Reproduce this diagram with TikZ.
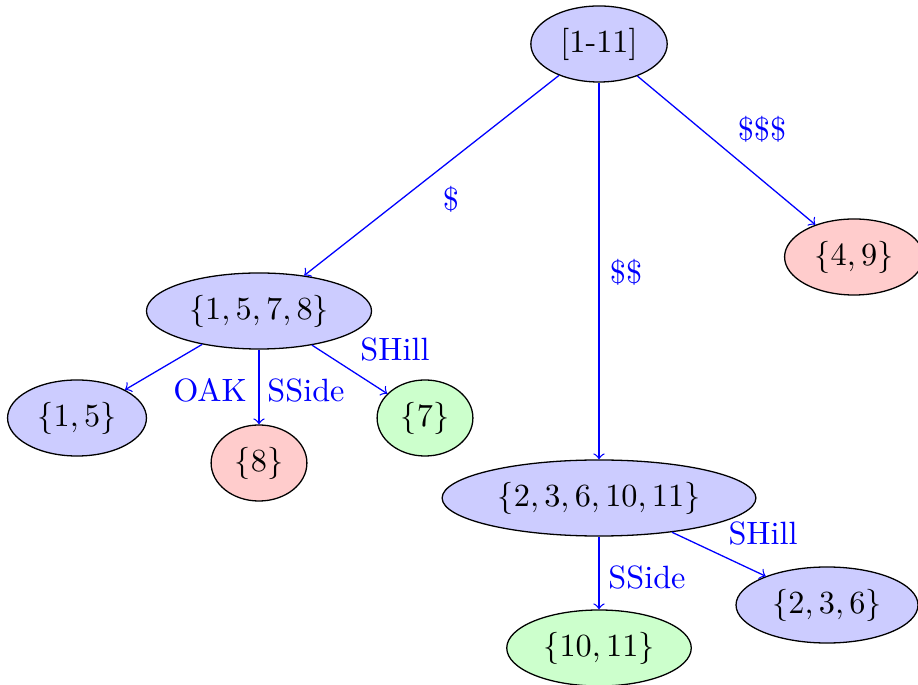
\documentclass[tikz,border=0pt]{standalone}
\usetikzlibrary{shapes.geometric}
\begin{document}
\begin{tikzpicture}[x=0.31pt,y=-0.31pt,
  setnode/.style={ellipse,draw,inner xsep=3pt,inner ysep=0.3333em},
  blueset/.style={setnode,fill=blue!20},
  redset/.style={setnode,fill=red!20},
  greenset/.style={setnode,fill=green!20},
  link/.style={->,blue},
  lbl/.style={blue,inner sep=0pt}]
\useasboundingbox (0,0) rectangle (918,685);

% tree nodes
\node[blueset]  (root)  at (599,44)  {[1-11]};
\node[blueset]  (a)     at (259,311) {$\{1,5,7,8\}$};
\node[blueset]  (b)     at (599,498) {$\{2,3,6,10,11\}$};
\node[redset]   (c)     at (854,257) {$\{4,9\}$};
\node[blueset]  (a1)    at (77,418)  {$\{1,5\}$};
\node[redset]   (a2)    at (259,463) {$\{8\}$};
\node[greenset] (a3)    at (425,418) {$\{7\}$};
\node[greenset] (b1)    at (599,648) {$\{10,11\}$};
\node[blueset]  (b2)    at (827,605) {$\{2,3,6\}$};

% connectors
\draw[link] (root) -- (a);
\draw[link] (root) -- (b);
\draw[link] (root) -- (c);
\draw[link] (a) -- (a1);
\draw[link] (a) -- (a2);
\draw[link] (a) -- (a3);
\draw[link] (b) -- (b1);
\draw[link] (b) -- (b2);

% connector labels
\node[lbl] (la)  at (451,199) {\$};
\node[lbl] (lb)  at (626,272) {\$\$};
\node[lbl] (lc)  at (762,129) {\$\$\$};
\node[lbl] (la1) at (210,390) {OAK};
\node[lbl] (la2) at (306,390) {SSide};
\node[lbl] (la3) at (395,349) {SHill};
\node[lbl] (lb1) at (647,577) {SSide};
\node[lbl] (lb2) at (763,533) {SHill};
\end{tikzpicture}
\end{document}
